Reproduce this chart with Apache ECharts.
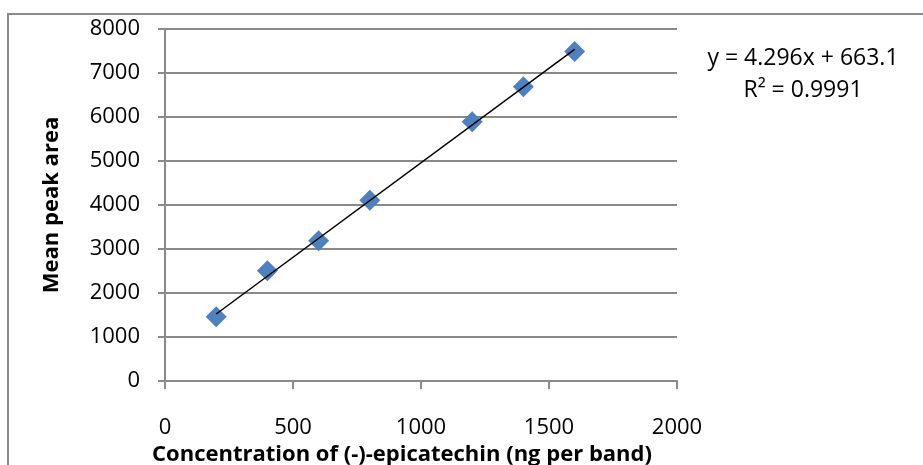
<!DOCTYPE html>
<html>
<head>
<meta charset="utf-8">
<script src="https://cdn.jsdelivr.net/npm/echarts@6/dist/echarts.min.js"></script>
<style>
  html, body { margin: 0; padding: 0; background: #fff; }
  #chart { width: 923px; height: 465px; }
</style>
</head>
<body>
<div id="chart"></div>
<script>
// measured points (concentration in ng per band, mean peak area)
const concentrations = [200, 400, 600, 800, 1200, 1400, 1600];
const peakAreas = [1460, 2505, 3190, 4110, 5890, 6690, 7490];

// linear trendline as printed on the chart
const slope = 4.296;
const intercept = 663.1;
const rSquared = 0.9991;

const xTicks = { min: 0, max: 2000, interval: 500 };
const yTicks = { min: 0, max: 8000, interval: 1000 };

const gridGray = '#898989';
const font = '"Open Sans", sans-serif';

const points = concentrations.map((c, i) => [c, peakAreas[i]]);
const xStart = concentrations[0];
const xEnd = concentrations[concentrations.length - 1];
const trend = [[xStart, slope * xStart + intercept], [xEnd, slope * xEnd + intercept]];

const chart = echarts.init(document.getElementById('chart'));

chart.setOption({
  backgroundColor: '#fff',
  animation: false,
  grid: {
    left: 165, right: 246, top: 29, bottom: 84,
    containLabel: false,
    outerBoundsMode: 'none' // keep the plot box fixed, labels may sit near the edge
  },
  xAxis: {
    type: 'value',
    min: xTicks.min,
    max: xTicks.max,
    interval: xTicks.interval,
    name: 'Concentration of (-)-epicatechin (ng per band)',
    nameLocation: 'middle',
    nameGap: 58,
    nameTextStyle: {
      fontFamily: font, fontSize: 22, fontWeight: 'bold', color: '#000',
      padding: [0, 38, 0, 0]
    },
    axisLine: { show: true, lineStyle: { color: gridGray, width: 2 } },
    axisTick: { show: true, inside: false, length: 8, lineStyle: { color: gridGray, width: 2 } },
    axisLabel: { fontFamily: font, fontSize: 22, color: '#000', margin: 36, formatter: v => String(v) },
    splitLine: { show: false }
  },
  yAxis: {
    type: 'value',
    min: yTicks.min,
    max: yTicks.max,
    interval: yTicks.interval,
    name: 'Mean peak area',
    nameLocation: 'middle',
    nameGap: 102,
    nameTextStyle: { fontFamily: font, fontSize: 22, fontWeight: 'bold', color: '#000' },
    axisLine: { show: true, lineStyle: { color: gridGray, width: 2 } },
    axisTick: { show: true, inside: false, length: 7, lineStyle: { color: gridGray, width: 2 } },
    axisLabel: { fontFamily: font, fontSize: 22, color: '#000', margin: 25, formatter: v => String(v) },
    splitLine: { show: true, lineStyle: { color: gridGray, width: 2 } }
  },
  series: [
    {
      type: 'scatter',
      data: points,
      symbol: 'diamond',
      symbolSize: 21,
      itemStyle: { color: '#4F81BD', opacity: 1 },
      z: 2
    },
    {
      type: 'line',
      data: trend,
      symbol: 'none',
      lineStyle: { color: '#000', width: 1.5 },
      z: 3
    }
  ],
  graphic: [
    {
      type: 'rect',
      shape: { x: 8, y: 14, width: 1000, height: 600 },
      style: { fill: 'none', stroke: '#8a8a8a', lineWidth: 2 },
      silent: true
    },
    {
      type: 'text',
      left: 0,
      top: -24,
      style: { text: 'eise.', font: '32px "Liberation Serif", serif', fill: '#000' }
    },
    {
      type: 'text',
      x: 803,
      y: 58,
      style: {
        text: 'y = ' + slope + 'x + ' + intercept,
        font: '23px ' + font, fill: '#000', align: 'center', verticalAlign: 'middle'
      }
    },
    {
      type: 'text',
      x: 803,
      y: 90,
      style: {
        text: 'R² = ' + rSquared,
        font: '23px ' + font, fill: '#000', align: 'center', verticalAlign: 'middle'
      }
    }
  ]
});
</script>
</body>
</html>
